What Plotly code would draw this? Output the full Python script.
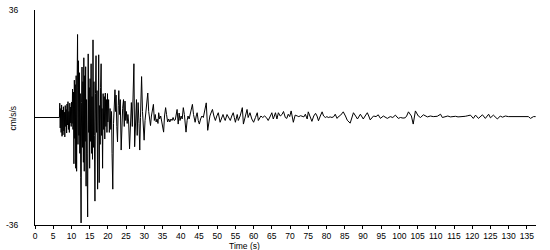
import plotly.graph_objects as go

# ---- data (time in s, acceleration in cm/s/s) ----
pre_t = [0.0, 6.70]
pre_v = [0.0, 0.0]

onset_t = [6.80, 6.92, 7.05, 7.17, 7.30, 7.42, 7.55, 7.68, 7.80, 7.93, 8.05, 8.18, 8.30, 8.43,
           8.55, 8.68, 8.80, 8.93, 9.05, 9.18, 9.30, 9.43, 9.55, 9.68, 9.80, 9.93, 10.05, 10.18]
onset_v = [4.8, -3.5, 3.0, -5.0, 4.2, -6.3, 2.5, -5.8, 3.6, -4.5, 1.8, -6.5, 4.0, -3.0,
           2.7, -5.2, 4.5, -2.5, 5.3, -4.0, 2.0, -5.0, 4.8, -1.8, 3.5, -3.0, 5.2, -2.0]

strong_t = [10.30, 10.42, 10.55, 10.68, 10.80, 10.92, 11.05, 11.18, 11.30, 11.42, 11.55, 11.68,
            11.80, 11.92, 12.05, 12.18, 12.30, 12.42, 12.55, 12.65, 12.78, 12.90, 13.02, 13.15,
            13.28, 13.40, 13.52, 13.65, 13.78, 13.90, 14.02, 14.15, 14.28, 14.45, 14.60, 14.75,
            14.88, 15.00, 15.12, 15.25, 15.40, 15.52, 15.65, 15.78, 15.92, 16.05, 16.18, 16.30,
            16.45, 16.60, 16.75, 16.90, 17.02, 17.18, 17.32, 17.48, 17.62, 17.75, 17.88, 18.00,
            18.15, 18.28, 18.40, 18.55, 18.70, 18.85, 19.00, 19.15, 19.30, 19.45, 19.60, 19.75,
            19.90]
strong_v = [9.5, -4.0, 8.5, -15.5, 12.5, -7.0, 11.0, -17.0, 14.0, -18.0, 10.0, 27.8,
            -9.0, 19.0, -6.0, 15.0, -12.0, 8.0, -20.0, -35.3, 5.0, 16.9, -10.0, 12.0,
            -15.0, 20.0, -18.0, 14.0, -8.0, 17.0, -23.0, 6.0, -12.0, -33.3, 21.3, -5.0,
            10.0, -17.0, 13.0, -8.0, 18.0, -12.0, 7.0, -14.0, 26.0, -10.0, 12.0, -6.0,
            -28.0, 8.0, 20.7, -5.0, 9.0, -24.0, 6.0, 21.0, -21.8, 4.0, -9.0, 10.0,
            18.0, -6.0, 3.0, -17.0, 8.0, -4.0, 7.0, -7.2, 8.2, -3.0, 6.0, -5.0,
            8.0]

decay_t = [20.00, 20.20, 20.40, 20.60, 20.80, 21.00, 21.15, 21.35, 21.55, 21.75, 21.95, 22.10,
           22.25, 22.45, 22.65, 22.85, 23.00, 23.20, 23.40, 23.65, 23.85, 24.05, 24.30, 24.50,
           24.70, 24.90, 25.10, 25.30, 25.50, 25.70, 25.95, 26.20, 26.45, 26.70, 26.95, 27.15,
           27.35, 27.60, 27.85, 28.05, 28.30, 28.55, 28.75, 28.95, 29.25, 29.50, 29.70, 29.95,
           30.20, 30.45, 30.70, 30.95, 31.20, 31.45, 31.70, 31.95, 32.20, 32.50, 32.75, 33.00,
           33.25, 33.50, 33.75, 33.95, 34.20, 34.50, 34.80, 35.10, 35.30, 35.55, 35.85, 36.10,
           36.40, 36.70, 37.00, 37.30, 37.60, 37.90, 38.20, 38.50, 38.75, 39.00, 39.30, 39.55,
           39.80, 40.10, 40.40, 40.70, 41.00, 41.45, 41.75, 42.00, 42.30, 42.60, 42.90, 43.20,
           43.50, 43.95, 44.25, 44.50, 44.80, 45.10, 45.45, 45.80, 46.20, 46.60, 47.00, 47.40,
           47.70, 48.00, 48.30, 48.70, 49.10, 49.50, 49.90]
decay_v = [-1.5, 6.0, -5.0, 3.0, -4.0, 2.0, -12.0, -24.0, -2.0, 5.0, 9.3, 2.0,
           7.5, -3.0, -8.2, 4.0, 9.0, 1.0, 6.0, -10.9, -2.0, 3.0, 6.0, -3.0,
           5.5, -1.0, 2.0, -2.0, 1.0, -1.5, -10.5, -2.0, 5.0, -3.0, 10.0, 18.0,
           -9.8, -2.0, 6.0, -6.0, 5.0, -2.0, -10.9, 0.0, 13.7, 2.0, -3.0, -7.6,
           -1.0, 2.0, 5.0, 8.2, 2.0, -1.0, -2.7, 0.5, 3.0, 4.4, -1.0, 1.0,
           -1.5, -0.5, -2.0, 1.6, -0.5, 0.5, -1.5, -3.3, -4.9, 0.5, 3.3, 1.0,
           -1.5, -0.5, -1.5, -0.5, -1.0, 0.0, -1.0, -0.8, 1.0, 2.7, -2.2, 1.5,
           -1.0, 0.5, -0.5, 3.3, 1.0, -4.9, -1.0, 0.5, -0.5, 1.0, 3.0, 4.4,
           1.0, -1.6, 0.5, 1.6, -1.0, -2.2, -0.5, 0.5, 0.0, 2.0, 4.9, -4.3,
           -1.0, 0.5, 1.5, 2.7, 0.5, -1.0, 0.5]

coda_t = [50.30, 50.80, 51.20, 51.60, 52.00, 52.20, 52.70, 53.20, 53.60, 54.00, 54.40, 54.70,
          55.00, 55.50, 55.80, 56.30, 56.90, 57.20, 57.70, 58.20, 58.50, 59.00, 59.50, 60.00,
          60.50, 61.00, 61.30, 61.70, 62.00, 62.50, 63.00, 63.50, 64.00, 64.60, 65.00, 65.40,
          66.00, 66.40, 66.80, 67.30, 67.80, 68.20, 68.70, 69.10, 69.50, 69.90, 70.30, 70.90,
          71.40, 72.00, 72.40, 72.90, 73.40, 73.80, 74.20, 74.70, 75.00, 75.50, 76.00, 76.50,
          77.00, 77.40, 77.80, 78.30, 78.80, 79.20, 79.70, 80.10, 80.50, 81.00, 81.50, 82.00,
          82.40, 82.90, 83.20, 83.90, 84.60, 85.20, 85.70, 86.50, 87.00, 87.40, 88.00, 88.50,
          89.30, 89.70, 90.10, 90.60, 91.20, 91.60, 92.00, 92.90, 93.60, 94.20, 94.80, 95.60,
          96.20, 96.70, 97.50, 98.20, 98.90, 99.70]
coda_v = [1.6, -1.6, -0.2, 1.0, -0.5, -1.0, 1.0, 0.0, -1.0, 0.5, 1.6, 0.0,
          -1.6, 1.0, -1.0, 0.5, 3.3, -2.2, 0.5, 2.7, 0.0, 1.6, -0.5, -1.6,
          0.0, 1.6, -1.0, 0.0, 0.5, 0.0, 0.5, 0.0, -1.0, 0.5, 1.6, -0.5,
          1.6, -0.5, 1.6, 0.5, 1.0, 2.0, 0.0, -0.3, 1.1, 0.3, 2.2, -1.6,
          0.8, 0.5, 0.3, 0.6, 0.4, 0.2, 1.1, -0.5, 1.9, 0.5, -1.3, 0.5,
          1.4, 0.5, -1.1, 0.5, 1.9, 0.5, 0.0, 0.3, 0.0, 0.2, 0.0, 0.3,
          1.1, -0.3, 0.2, 0.8, 1.9, 0.5, -0.9, -1.9, 0.0, 1.6, 0.5, -0.5,
          1.1, 0.0, -0.5, 0.5, 1.6, 0.5, -0.8, 0.5, 0.3, 0.9, -0.3, 0.5,
          0.0, -0.3, 0.3, 0.0, 0.8, -0.3]

tail_t = [100.30, 101.00, 101.60, 102.00, 102.50, 103.00, 103.30, 103.80, 104.40, 105.20, 105.80,
          106.60, 107.10, 107.70, 108.50, 109.30, 110.40, 111.30, 111.80, 112.60, 113.30, 114.00,
          114.70, 115.40, 116.10, 116.80, 117.50, 118.10, 118.80, 119.50, 120.30, 120.90, 121.70,
          122.80, 123.60, 124.50, 125.00, 125.80, 126.90, 127.70, 128.30, 129.10, 129.90, 130.60,
          131.30, 132.00, 132.70, 133.30, 133.80, 134.60, 135.40, 136.00, 136.80, 137.40]
tail_v = [0.0, -0.2, -0.1, 0.5, 1.9, 0.8, 0.5, -2.2, 2.2, 0.5, 0.0,
          0.9, 0.5, 0.2, 0.5, 0.3, 0.4, 1.1, 0.0, 0.3, 0.5, 0.2,
          0.4, 0.4, 0.2, 0.2, 0.4, 0.4, 0.6, 0.8, -0.3, 0.8, -0.3,
          0.9, -0.3, 1.1, -0.1, 0.8, -0.5, 0.5, 0.1, 0.5, 0.3, 0.3,
          0.2, 0.4, 0.4, 0.4, 0.3, 0.4, 0.3, -0.3, 0.3, 0.3]

x_tick_vals = list(range(0, 136, 5))
x_tick_text = [str(v) for v in x_tick_vals]
y_tick_vals = [-36, 36]
y_tick_text = ["-36", "36"]
x_title = "Time (s)"
y_title = "cm/s/s"

time_s = pre_t + onset_t + strong_t + decay_t + coda_t + tail_t
accel = pre_v + onset_v + strong_v + decay_v + coda_v + tail_v

FONT = "Liberation Sans, Arial, sans-serif"
FS = 8.5

fig = go.Figure()
fig.add_trace(go.Scatter(x=time_s, y=accel, mode="lines",
                         line=dict(color="black", width=1), hoverinfo="skip"))

fig.update_layout(
    width=550, height=250,
    margin=dict(l=35, r=14, t=5, b=25),
    paper_bgcolor="white", plot_bgcolor="white",
    showlegend=False,
    font=dict(family=FONT, size=FS, color="black"),
    xaxis=dict(range=[0, 137.5], showgrid=False, zeroline=False,
               showline=True, linecolor="black", linewidth=1,
               ticks="outside", ticklen=3, tickcolor="black", tickwidth=1,
               tickvals=x_tick_vals, ticktext=x_tick_text,
               ticklabeloverflow="allow",
               tickfont=dict(family=FONT, size=FS, color="black")),
    yaxis=dict(range=[-36, 36], showgrid=False, zeroline=False,
               showline=True, linecolor="black", linewidth=1,
               ticks="", tickvals=y_tick_vals, ticktext=y_tick_text,
               ticklabelstandoff=14, ticklabeloverflow="allow",
               tickfont=dict(family=FONT, size=FS, color="black")),
    annotations=[
        dict(text=x_title, xref="paper", yref="paper", x=0.419, y=-0.097,
             xanchor="center", yanchor="middle", showarrow=False,
             font=dict(family=FONT, size=FS, color="black")),
        dict(text=y_title, xref="paper", yref="paper", x=-0.044, y=0.5,
             xanchor="center", yanchor="middle", showarrow=False, textangle=-90,
             font=dict(family=FONT, size=FS, color="black")),
    ],
)

fig.write_html("out.html")
